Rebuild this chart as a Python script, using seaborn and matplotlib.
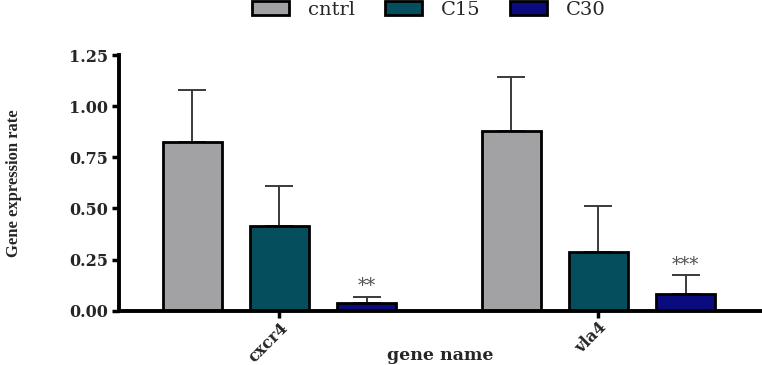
import numpy as np
import pandas as pd
import matplotlib
matplotlib.use("Agg")
import matplotlib.pyplot as plt
import seaborn as sns
from matplotlib.patches import Patch

genes = ["cxcr4", "vla4"]
groups = ["cntrl", "C15", "C30"]
mean_vals = {"cntrl": [0.825, 0.880], "C15": [0.415, 0.286], "C30": [0.040, 0.082]}
sd_vals = {"cntrl": [0.252, 0.262], "C15": [0.196, 0.227], "C30": [0.027, 0.091]}
stars = {"C30": ["**", "***"]}
colors = ["#a2a2a4", "#054e5e", "#0b0b80"]

rows = []
for g in groups:
    for i, gene in enumerate(genes):
        rows.append({"gene": gene, "group": g, "value": mean_vals[g][i], "sd": sd_vals[g][i]})
df = pd.DataFrame(rows)

sns.set_style("ticks")
fig = plt.figure(figsize=(7.62, 3.65), dpi=100)
ax = fig.add_axes([0.1562, 0.1488, 0.8438, 0.7005])

sns.barplot(data=df, x="gene", y="value", hue="group", hue_order=groups, order=genes,
            palette=colors, errorbar=None, width=0.82, gap=0.32,
            edgecolor="black", linewidth=2, saturation=1, legend=False, ax=ax, zorder=2)

# upper-only error bars (lower cap hidden behind the bar) + significance stars
for g, cont in zip(groups, ax.containers):
    for i, bar in enumerate(cont):
        xc = bar.get_x() + bar.get_width() / 2
        top = bar.get_height()
        ax.errorbar(xc, top, yerr=[[0], [sd_vals[g][i]]], fmt="none", ecolor="#3a3a3a",
                    elinewidth=1.4, capsize=10, capthick=1.4, zorder=1)
        if g in stars:
            ax.text(xc, top + sd_vals[g][i] + 0.008, stars[g][i], ha="center", va="bottom",
                    fontsize=13, color="#555555", family="DejaVu Serif")

ax.set_xlim(-0.503, 1.513)
ax.set_ylim(0, 1.25)
ax.set_yticks([0, 0.25, 0.5, 0.75, 1.0, 1.25])
ax.set_yticklabels(["0.00", "0.25", "0.50", "0.75", "1.00", "1.25"],
                   family="DejaVu Serif", fontweight="bold", fontsize=11.5)
ax.set_xticks(range(len(genes)))
ax.set_xticklabels(genes, rotation=45, ha="right", rotation_mode="anchor",
                   family="DejaVu Serif", fontweight="bold", fontsize=11.5)
ax.tick_params(axis="both", width=2.5, length=5, color="black", pad=3)
ax.tick_params(axis="x", pad=1)

for s in ["top", "right"]:
    ax.spines[s].set_visible(False)
for s in ["left", "bottom"]:
    ax.spines[s].set_linewidth(2.8)
    ax.spines[s].set_color("black")

ax.set_ylabel("Gene expression rate", family="Liberation Serif", fontweight="bold", fontsize=12)
ax.yaxis.set_label_coords(-0.151, 0.5)
ax.set_xlabel("gene name", family="DejaVu Serif", fontweight="bold", fontsize=12.5, va="center")
ax.xaxis.set_label_coords(0.5, -0.177)

handles = [Patch(facecolor=c, edgecolor="black", linewidth=2) for c in colors]
fig.legend(handles, groups, loc="upper center", bbox_to_anchor=(0.563, 1.045), ncol=3,
           frameon=False, prop={"family": "DejaVu Serif", "size": 14},
           handlelength=1.9, handleheight=0.75, columnspacing=1.5, handletextpad=1.0)

fig.savefig("out.png", dpi=100)
